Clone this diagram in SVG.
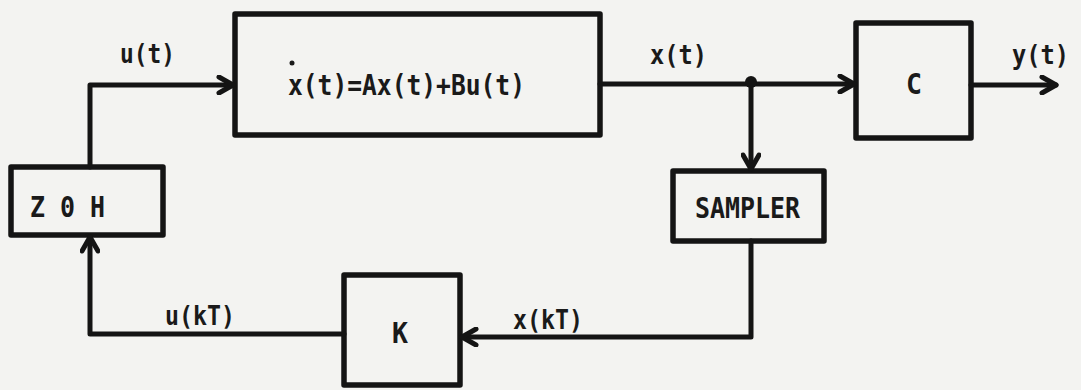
<svg xmlns="http://www.w3.org/2000/svg" width="1081" height="390" viewBox="0 0 1081 390">
<style>
.box{fill:none;stroke:#141414;stroke-width:5.5;stroke-linejoin:round}
.ln{fill:none;stroke:#141414;stroke-width:5;stroke-linejoin:round;stroke-linecap:round}
text{font-family:"DejaVu Sans Mono","Liberation Mono",monospace;font-weight:bold;fill:#1a1a1a}
.lbl{font-size:27px}
.in{font-size:29px}
</style>
<defs>
<marker id="arr" viewBox="0 0 20 20" refX="17" refY="10" markerWidth="20" markerHeight="20" markerUnits="userSpaceOnUse" orient="auto">
<path d="M3,2 L17,10 L3,18" fill="none" stroke="#141414" stroke-width="5" stroke-linecap="round" stroke-linejoin="round"/>
</marker>
</defs>
<rect width="1081" height="390" fill="#f3f3f1"/>
<g id="plant">
<rect class="box" x="235" y="14" width="365" height="121"/>
<text class="in" x="288" y="95" textLength="237" lengthAdjust="spacingAndGlyphs">x(t)=Ax(t)+Bu(t)</text>
<circle cx="292" cy="63" r="2.5" fill="#1a1a1a"/>
</g>
<g id="C">
<rect class="box" x="856" y="23" width="115" height="115"/>
<text class="in" x="906" y="94" textLength="16" lengthAdjust="spacingAndGlyphs">C</text>
</g>
<g id="ZOH">
<rect class="box" x="11" y="167" width="152" height="68"/>
<text class="in" x="30" y="217" textLength="75" lengthAdjust="spacingAndGlyphs">Z 0 H</text>
</g>
<g id="SAMPLER">
<rect class="box" x="673" y="171" width="151" height="70"/>
<text class="in" x="695" y="218" textLength="105" lengthAdjust="spacingAndGlyphs">SAMPLER</text>
</g>
<g id="K">
<rect class="box" x="344" y="275" width="116" height="110"/>
<text class="in" x="392" y="343" textLength="16" lengthAdjust="spacingAndGlyphs">K</text>
</g>
<g id="connectors">
<polyline class="ln" points="90,167 90,85 233,85" marker-end="url(#arr)"/>
<polyline class="ln" points="600,84 854,84" marker-end="url(#arr)"/>
<circle cx="751" cy="82" r="6" fill="#141414"/>
<polyline class="ln" points="751,82 751,169" marker-end="url(#arr)"/>
<polyline class="ln" points="971,85 1056,85" marker-end="url(#arr)"/>
<polyline class="ln" points="751,241 751,337 462,337" marker-end="url(#arr)"/>
<polyline class="ln" points="344,334 90,334 90,237" marker-end="url(#arr)"/>
</g>
<g id="labels">
<text class="lbl" x="120" y="63" textLength="55" lengthAdjust="spacingAndGlyphs">u(t)</text>
<text class="lbl" x="650" y="64" textLength="57" lengthAdjust="spacingAndGlyphs">x(t)</text>
<text class="lbl" x="1012" y="64" textLength="57" lengthAdjust="spacingAndGlyphs">y(t)</text>
<text class="lbl" x="165" y="325" textLength="70" lengthAdjust="spacingAndGlyphs">u(kT)</text>
<text class="lbl" x="513" y="329" textLength="70" lengthAdjust="spacingAndGlyphs">x(kT)</text>
</g>
</svg>
